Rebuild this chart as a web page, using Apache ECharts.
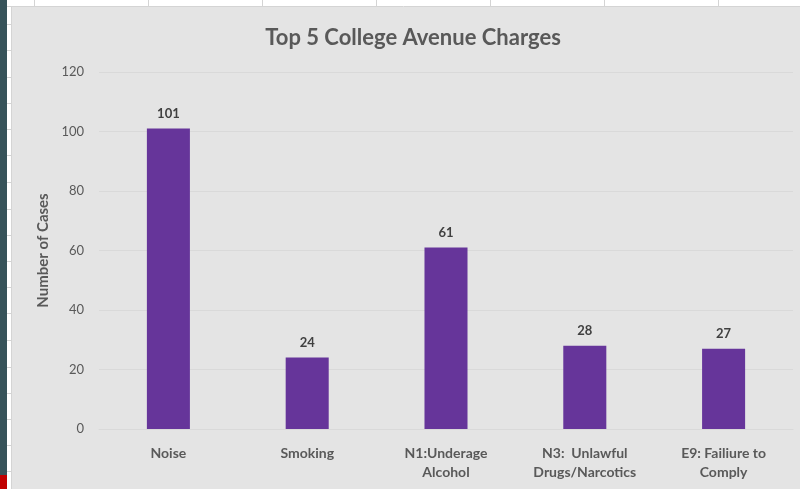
<!DOCTYPE html>
<html>
<head>
<meta charset="utf-8">
<script src="https://cdn.jsdelivr.net/npm/echarts@6/dist/echarts.min.js"></script>
<style>
html,body{margin:0;padding:0;background:#e4e4e4;}
#chart{width:800px;height:489px;}
</style>
</head>
<body>
<div id="chart"></div>
<script>
const categories = ["Noise", "Smoking", "N1:Underage\nAlcohol", "N3:  Unlawful\nDrugs/Narcotics", "E9: Failiure to\nComply"];
const cases = [101, 24, 61, 28, 27];
const yTicks = { min: 0, max: 120, interval: 20 };
const titleText = "Top 5 College Avenue Charges";
const yAxisName = "Number of Cases";

const FONT = "Lato, 'Open Sans', sans-serif";
const chart = echarts.init(document.getElementById('chart'), null, { renderer: 'canvas' });

// Spreadsheet-like surroundings (decoration only)
const deco = [];
deco.push({ type: 'rect', shape: { x: 0, y: 0, width: 800, height: 7 }, style: { fill: '#ffffff' }, silent: true, z: -10 });
deco.push({ type: 'rect', shape: { x: 0, y: 0, width: 12, height: 489 }, style: { fill: '#ffffff' }, silent: true, z: -10 });
deco.push({ type: 'rect', shape: { x: 0, y: 0, width: 7, height: 489 }, style: { fill: '#37535a' }, silent: true, z: -9 });
deco.push({ type: 'rect', shape: { x: 0, y: 475, width: 7, height: 14 }, style: { fill: '#c00000' }, silent: true, z: -8 });
[34, 148, 262, 376, 490, 604, 718].forEach(function (x) {
  deco.push({ type: 'line', shape: { x1: x + 0.5, y1: 0, x2: x + 0.5, y2: 7 }, style: { stroke: '#d4d4d4', lineWidth: 1 }, silent: true, z: -7 });
});
[24, 50, 77, 103, 129, 155, 182, 209, 235, 261, 287, 313, 340, 367, 393, 419, 445, 471].forEach(function (y) {
  deco.push({ type: 'line', shape: { x1: 7, y1: y + 0.5, x2: 12, y2: y + 0.5 }, style: { stroke: '#d4d4d4', lineWidth: 1 }, silent: true, z: -7 });
});
deco.push({ type: 'line', shape: { x1: 7, y1: 6.5, x2: 800, y2: 6.5 }, style: { stroke: '#d4d4d4', lineWidth: 1 }, silent: true, z: -7 });
deco.push({ type: 'line', shape: { x1: 11.5, y1: 7, x2: 11.5, y2: 489 }, style: { stroke: '#d4d4d4', lineWidth: 1 }, silent: true, z: -7 });

chart.setOption({
  backgroundColor: '#e4e4e4',
  animation: false,
  graphic: deco,
  title: {
    text: titleText,
    left: 408,
    textAlign: 'center',
    top: 22,
    textStyle: { fontFamily: FONT, fontSize: 22, fontWeight: 'bold', color: '#595959' }
  },
  grid: { left: 99, right: 7, top: 72, bottom: 60, containLabel: false },
  xAxis: {
    type: 'category',
    data: categories,
    axisLine: { show: true, lineStyle: { color: '#d9d9d9', width: 1 } },
    axisTick: { show: false },
    axisLabel: {
      color: '#595959', fontFamily: FONT, fontSize: 14, fontWeight: 'bold',
      margin: 15, lineHeight: 19, interval: 0
    }
  },
  yAxis: {
    type: 'value',
    min: yTicks.min, max: yTicks.max, interval: yTicks.interval,
    name: yAxisName,
    nameLocation: 'middle',
    nameRotate: 90,
    nameGap: 41,
    nameTextStyle: { color: '#595959', fontFamily: FONT, fontSize: 15, fontWeight: 'bold' },
    axisLine: { show: false },
    axisTick: { show: false },
    splitLine: { lineStyle: { color: '#d9d9d9', width: 1 } },
    axisLabel: { color: '#595959', fontFamily: FONT, fontSize: 13, margin: 15 }
  },
  series: [{
    type: 'bar',
    data: cases,
    barWidth: '31%',
    itemStyle: { color: '#66359a' },
    label: {
      show: true, position: 'top', distance: 8,
      color: '#404040', fontFamily: FONT, fontSize: 13, fontWeight: 'bold'
    }
  }]
});
</script>
</body>
</html>
